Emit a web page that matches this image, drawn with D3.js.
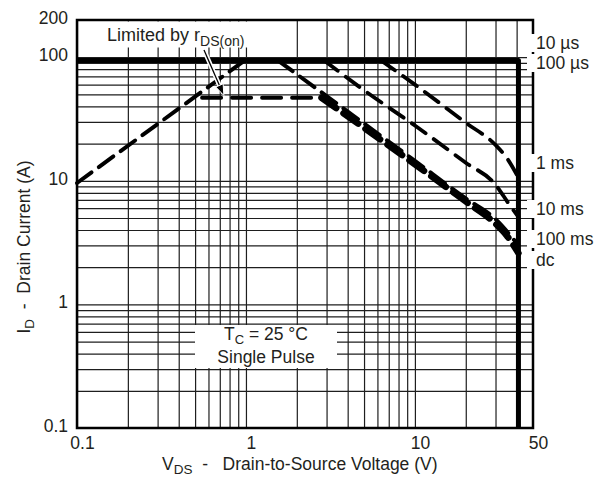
<!DOCTYPE html>
<html>
<head>
<meta charset="utf-8">
<script src="https://cdn.jsdelivr.net/npm/d3@7"></script>
<style>
  body { margin: 0; background: #fff; }
  text { font-family: "Liberation Sans", Arial, Helvetica, sans-serif; fill: #231f20; }
</style>
</head>
<body>
<svg id="chart" width="606" height="479"></svg>
<script>
// Axis ticks
const xTickLabels = [0.1, 1, 10, 50];
const yTickLabels = [0.1, 1, 10, 100, 200];

// Safe operating area boundaries: [VDS (V), ID (A)]
const rdsLimit = [[0.1, 9.6], [0.98, 94]];
const dcPackageLimit = [[0.55, 47], [2.8, 47]];
const pulse10us = [[0.1, 94], [41, 94], [41, 0.1]];
const pulse100us = [[0.98, 94], [34, 94], [41, 91]];
const pulse1ms = [[6.3, 94], [10, 60], [20, 29.5], [30, 19.5], [35, 15.3], [41, 10.6]];
const pulse10ms = [[2.9, 94], [5, 54], [10, 28], [20, 14], [30, 9.3], [36, 6.5], [41, 5.1]];
const pulse100ms = [[1.55, 94], [3, 48.5], [10, 14.5], [20, 7.2], [30, 4.9], [41, 3.0]];
const dcLine = [[2.8, 47], [10, 13.6], [20, 6.8], [30, 4.5], [35, 3.6], [41, 2.6]];

const curveLabels = ["10 µs", "100 µs", "1 ms", "10 ms", "100 ms", "dc"];

const svg = d3.select("#chart");
const plotL = 77, plotR = 533, plotT = 20, plotB = 428;

const x = d3.scaleLog().domain([0.1, 50]).range([plotL, plotR]);
const y = d3.scaleLog().domain([0.1, 200]).range([plotB, plotT]);

// Grid values: 1..9 within each decade
const gridX = [];
[0.1, 1, 10].forEach(d => { for (let k = 1; k <= 9; k++) { const v = +(d * k).toPrecision(3); if (v < 50) gridX.push(v); } });
const gridY = [];
[0.1, 1, 10].forEach(d => { for (let k = 1; k <= 9; k++) gridY.push(+(d * k).toPrecision(3)); });
gridY.push(100);

const gridColor = "#1e1e1e";

svg.append("g")
  .attr("transform", `translate(0,${plotB})`)
  .call(d3.axisBottom(x).tickValues(gridX).tickSize(-(plotB - plotT)).tickFormat(""))
  .call(g => g.select(".domain").remove())
  .call(g => g.selectAll("line").attr("stroke", gridColor).attr("stroke-width", 1.2));

svg.append("g")
  .attr("transform", `translate(${plotL},0)`)
  .call(d3.axisLeft(y).tickValues(gridY).tickSize(-(plotR - plotL)).tickFormat(""))
  .call(g => g.select(".domain").remove())
  .call(g => g.selectAll("line").attr("stroke", gridColor).attr("stroke-width", 1.2));

// Label backgrounds inside the plot
svg.append("rect").attr("x", 100).attr("y", plotT + 1.5).attr("width", 156).attr("height", 26).attr("fill", "#fff");
svg.append("rect").attr("x", 195).attr("y", 325).attr("width", 142).attr("height", 43).attr("fill", "#fff");

// Plot frame
svg.append("rect")
  .attr("x", plotL).attr("y", plotT)
  .attr("width", plotR - plotL).attr("height", plotB - plotT)
  .attr("fill", "none").attr("stroke", "#000").attr("stroke-width", 2.5);

// Tick labels
svg.append("g")
  .attr("transform", `translate(0,${plotB})`)
  .call(d3.axisBottom(x).tickValues(xTickLabels).tickSize(0).tickPadding(9).tickFormat(d3.format("~g")))
  .call(g => g.select(".domain").remove())
  .call(g => g.selectAll("text").attr("font-size", 17.5).attr("dx", 5).attr("fill", "#231f20")
                .style("font-family", '"Liberation Sans", Arial, sans-serif'));

svg.append("g")
  .attr("transform", `translate(${plotL},0)`)
  .call(d3.axisLeft(y).tickValues(yTickLabels).tickSize(0).tickPadding(9).tickFormat(d3.format("~g")))
  .call(g => g.select(".domain").remove())
  .call(g => g.selectAll("text").attr("font-size", 17.5).attr("dy", "0.2em").attr("fill", "#231f20")
                .style("font-family", '"Liberation Sans", Arial, sans-serif'));

// Curves
const smooth = d3.line().x(d => x(d[0])).y(d => y(d[1])).curve(d3.curveMonotoneX);
const straight = d3.line().x(d => x(d[0])).y(d => y(d[1]));

function drawLine(data, gen, width, dash) {
  svg.append("path")
    .attr("d", gen(data))
    .attr("fill", "none")
    .attr("stroke", "#000")
    .attr("stroke-width", width)
    .attr("stroke-linecap", dash ? "round" : "butt")
    .attr("stroke-linejoin", "round")
    .attr("stroke-dasharray", dash || null);
}

drawLine(rdsLimit, straight, 4, "18 9");
drawLine(dcPackageLimit, straight, 4, "19 11");
drawLine(pulse1ms, smooth, 3.8, "17 10");
drawLine(pulse10ms, smooth, 3.8, "17 10");
drawLine(pulse100ms, smooth, 4, "18 9");
drawLine(dcLine, smooth, 6.5, "18 9");
drawLine(pulse100us, straight, 3, null);
drawLine(pulse10us, straight, 5, null);

// Arrow to the rDS(on) limit
const ax0 = 204, ay0 = 50, ax1 = x(0.74), ay1 = y(49);
const ang = Math.atan2(ay1 - ay0, ax1 - ax0);
svg.append("line").attr("x1", ax0).attr("y1", ay0).attr("x2", ax1 - 8 * Math.cos(ang)).attr("y2", ay1 - 8 * Math.sin(ang))
  .attr("stroke", "#fff").attr("stroke-width", 4.5);
svg.append("line").attr("x1", ax0).attr("y1", ay0).attr("x2", ax1 - 8 * Math.cos(ang)).attr("y2", ay1 - 8 * Math.sin(ang))
  .attr("stroke", "#000").attr("stroke-width", 1.3);
const head = [[ax1, ay1],
  [ax1 - 11 * Math.cos(ang) + 4 * Math.sin(ang), ay1 - 11 * Math.sin(ang) - 4 * Math.cos(ang)],
  [ax1 - 11 * Math.cos(ang) - 4 * Math.sin(ang), ay1 - 11 * Math.sin(ang) + 4 * Math.cos(ang)]];
svg.append("polygon").attr("points", head.map(p => p.join(",")).join(" "))
  .attr("fill", "#000").attr("stroke", "#fff").attr("stroke-width", 1);

// "Limited by rDS(on)"
const lim = svg.append("text").attr("x", 107).attr("y", 41).attr("font-size", 18);
lim.append("tspan").text("Limited by r");
lim.append("tspan").attr("font-size", 14).attr("dy", 5).text("DS(on)");

// Test condition
const tc = svg.append("text").attr("x", 266).attr("y", 340).attr("text-anchor", "middle").attr("font-size", 17.5);
tc.append("tspan").text("T");
tc.append("tspan").attr("font-size", 13).attr("dy", 4).text("C");
tc.append("tspan").attr("dy", -4).text(" = 25 °C");
svg.append("text").attr("x", 266).attr("y", 363).attr("text-anchor", "middle").attr("font-size", 17.5).text("Single Pulse");

// Curve labels on the right
const labelY = [43, 63, 163, 209, 239, 260];
curveLabels.forEach((t, i) => {
  svg.append("rect").attr("x", 527).attr("y", labelY[i] - 9).attr("width", 79).attr("height", 18).attr("fill", "#fff");
});
curveLabels.forEach((t, i) => {
  svg.append("text").attr("x", 536).attr("y", labelY[i] + 6).attr("font-size", 17.5).text(t);
});

// Axis titles
const xt = svg.append("text").attr("x", 162).attr("y", 470).attr("font-size", 17.5).style("white-space", "pre");
xt.append("tspan").text("V");
xt.append("tspan").attr("font-size", 13.5).attr("dy", 3.5).text("DS");
xt.append("tspan").attr("dy", -3.5).text("  -   Drain-to-Source Voltage (V)");

const yt = svg.append("text").attr("transform", "translate(30,247) rotate(-90)")
  .attr("text-anchor", "middle").attr("font-size", 17.5).style("white-space", "pre");
yt.append("tspan").text("I");
yt.append("tspan").attr("font-size", 13.5).attr("dy", 4).text("D");
yt.append("tspan").attr("dy", -4).text("  -  Drain Current (A)");
</script>
</body>
</html>
